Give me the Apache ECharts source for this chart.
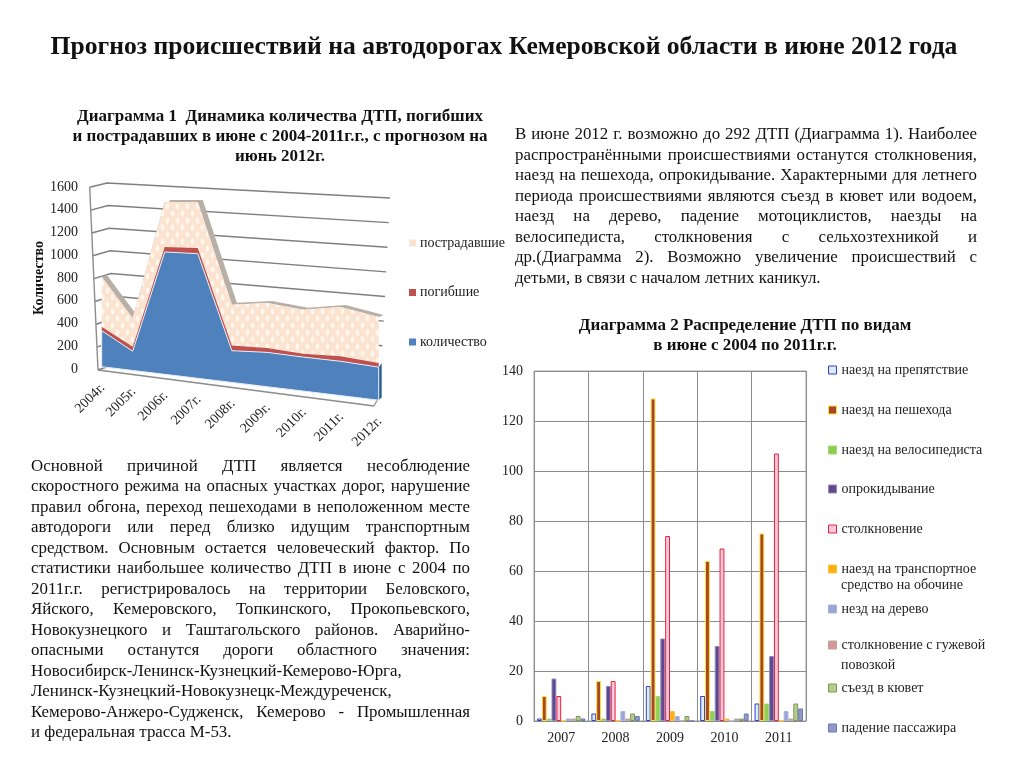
<!DOCTYPE html>
<html><head><meta charset="utf-8">
<style>
html,body{margin:0;padding:0;background:#fff}
#c{position:absolute;left:0;top:0;width:1024px;height:768px}
.p{position:absolute;font:16.9px/20.5px "Liberation Serif",serif;color:#111}
.p div{height:20.5px;white-space:nowrap;text-align:justify;text-align-last:justify}
.p div.l{text-align:left;text-align-last:left}
</style>
<script src="https://cdn.jsdelivr.net/npm/echarts@6/dist/echarts.min.js"></script>
</head><body>
<div id="c"></div>
<div class="p" id="p1" style="left:515px;top:124px;width:462px"></div>
<div class="p" id="p2" style="left:31px;top:455.5px;width:439px"></div>
<script>
const yearsA=['2004г.','2005г.','2006г.','2007г.','2008г.','2009г.','2010г.','2011г.','2012г.'];
const kolichestvo=[318,170,1080,1100,280,303,300,303,292];
const pogibshie=[35,40,43,50,46,38,29,44,37];
const postradavshie=[441,250,397,406,359,397,389,435,406];
const ticksA=[0,200,400,600,800,1000,1200,1400,1600];
const yearsB=['2007','2008','2009','2010','2011'];
const naezdPrep=[1,3,14,10,7];
const naezdPesh=[10,16,129,64,75];
const naezdVelo=[1,1,10,4,7];
const oprokid=[17,14,33,30,26];
const stolkn=[10,16,74,69,107];
const naezdTrans=[0,0,4,1,0];
const naezdDerevo=[1,4,2,0,4];
const stolknGuzh=[1,1,0,1,1];
const sezd=[2,3,2,1,7];
const padenie=[1,2,0,3,5];
const para1=['В июне 2012 г. возможно до 292 ДТП (Диаграмма 1). Наиболее','распространёнными происшествиями останутся столкновения,','наезд на пешехода, опрокидывание. Характерными для летнего','периода  происшествиями являются съезд в кювет или водоем,','наезд на дерево, падение мотоциклистов, наезды на','велосипедиста, столкновения с сельхозтехникой и','др.(Диаграмма 2). Возможно увеличение происшествий с','детьми, в связи с началом летних каникул.'];
const para2=['Основной причиной ДТП является несоблюдение','скоростного режима на опасных участках дорог, нарушение','правил обгона, переход пешеходами в неположенном месте','автодороги или перед близко идущим транспортным','средством. Основным остается человеческий фактор. По','статистики наибольшее количество ДТП в июне с 2004 по','2011г.г.   регистрировалось на территории Беловского,','Яйского,  Кемеровского, Топкинского, Прокопьевского,','Новокузнецкого и Таштагольского районов. Аварийно-','опасными останутся дороги областного значения:','Новосибирск-Ленинск-Кузнецкий-Кемерово-Юрга,','Ленинск-Кузнецкий-Новокузнецк-Междуреченск,','Кемерово-Анжеро-Судженск, Кемерово - Промышленная','и федеральная трасса М-53.'];
const leftLines1=[7], leftLines2=[10,11,13];
function fill(id,lines,left){document.getElementById(id).innerHTML=lines.map((s,i)=>'<div'+(left.includes(i)?' class="l"':'')+'>'+s+'</div>').join('');}
fill('p1',para1,leftLines1);fill('p2',para2,leftLines2);

const F='"Liberation Serif",serif';
// pseudo-3D projection of the front plane of diagram 1
const SHEAR=0.121, WARP=0.12, DX=5, DY=-2;
function proj(api,i,v){
  const p=api.coord([i,v]), o=api.coord([0,0]), e=api.coord([yearsA.length-1,0]);
  const w=e[0]-o[0], t=(p[0]-o[0])/w, t2=t-WARP*t*(1-t), x=o[0]+t2*w;
  return [x,p[1]+SHEAR*(x-o[0])];
}
function pattern(){
  const c=document.createElement('canvas');c.width=10;c.height=14;const g=c.getContext('2d');
  g.fillStyle='#fce3cf';g.fillRect(0,0,10,14);
  g.fillStyle='#fff6ee';
  [[2.5,3.5],[7.5,10.5]].forEach(([x,y])=>{g.beginPath();g.ellipse(x,y,1.8,3,0,0,7);g.fill();});
  return c;
}
const patt={image:pattern(),repeat:'repeat'};
function stack(a,n){return a.map((_,i)=>{let s=0;for(let k=0;k<=n;k++)s+=[kolichestvo,pogibshie,postradavshie][k][i];return s;});}
const top0=stack(kolichestvo,0),top1=stack(pogibshie,1),top2=stack(postradavshie,2);
function layer(name,vals,lows,color,stroke,z,extra){
  return {type:'custom',name,xAxisIndex:0,yAxisIndex:0,coordinateSystem:'cartesian2d',z,silent:true,
    itemStyle:{color:typeof color==='string'?color:'#fce3cf'},
    data:vals.map((v,i)=>[i,v]),
    renderItem(p,api){
      if(p.dataIndex!==0)return null;
      const up=vals.map((v,i)=>proj(api,i,v)), lo=lows.map((v,i)=>proj(api,i,v)).reverse();
      const ch=[];
      if(extra)extra(up,lo,ch);
      ch.push({type:'polygon',shape:{points:up.concat(lo)},style:{fill:color,stroke:stroke,lineWidth:stroke?1:0},z2:5});
      return {type:'group',children:ch};
    }};
}
const zeros=yearsA.map(()=>0);
const seriesA=[
  // walls and gridlines, drawn from the tick values
  {type:'custom',xAxisIndex:0,yAxisIndex:0,z:1,silent:true,data:ticksA.map(v=>[0,v]),
   renderItem(p,api){
     const v=api.value(1),t=v/1600;
     const a=[98-8.3*t,370-182.7*t],b=[115-8*t,364-181*t],c=[380+10*t,395-197*t];
     return {type:'polyline',shape:{points:[a,b,c]},style:{fill:null,stroke:'#7f7f7f',lineWidth:1.5}};
   }},
  {type:'custom',xAxisIndex:0,yAxisIndex:0,z:1,silent:true,data:[[0,0]],
   renderItem(){
     return {type:'group',children:[
       {type:'line',shape:{x1:98,y1:370,x2:89.7,y2:187.3},style:{stroke:'#8c8c8c',lineWidth:1.4}},
       {type:'line',shape:{x1:98,y1:370,x2:374,y2:406},style:{stroke:'#8c8c8c',lineWidth:1.6}},
       {type:'line',shape:{x1:374,y1:406,x2:380,y2:395},style:{stroke:'#8c8c8c',lineWidth:1.2}}
     ]};
   }},
  layer('пострадавшие',top2,top1,patt,null,3,(up,lo,ch)=>{
    const off=up.map(q=>[q[0]+DX,q[1]+DY]).reverse();
    ch.push({type:'polygon',shape:{points:up.concat(off)},style:{fill:'#b8afa6'},z2:2});
  }),
  layer('погибшие',top1,top0,'#c0504d',null,4),
  layer('количество',top0,zeros,'#4f81bd','#e6edf5',5,(up,lo,ch)=>{
    const r=up[up.length-1], b=lo[0];
    ch.push({type:'polygon',shape:{points:[r,b,[b[0]+3,b[1]-3],[r[0]+3,r[1]-4]]},style:{fill:'#2f5f94'},z2:2});
  }),
  // category labels along the slanted floor
  {type:'custom',xAxisIndex:0,yAxisIndex:0,z:6,silent:true,data:yearsA.map((_,i)=>[i,0]),
   renderItem(p,api){
     const i=api.value(0),q=proj(api,i,0);
     return {type:'text',x:q[0]+1,y:q[1]+19,rotation:Math.PI/4,
       style:{text:yearsA[i],font:'14px '+F,fill:'#222',align:'right',verticalAlign:'middle'}};
   }}
];
const S=(name,data,color,border)=>({type:'bar',name,data,xAxisIndex:1,yAxisIndex:2,barGap:'0%',barCategoryGap:'11%',
  itemStyle:{color,borderColor:border,borderWidth:1}});
const seriesB=[
  S('наезд на препятствие',naezdPrep,'#dcecf8','#2f3fd0'),
  S('наезд на пешехода',naezdPesh,'#a5452d','#ffe030'),
  S('наезд на велосипедиста',naezdVelo,'#8ccf50','#a5d870'),
  S('опрокидывание',oprokid,'#64468e','#8a8fc0'),
  S('столкновение',stolkn,'#ffcadc','#e8203c'),
  S('наезд на транспортное\nсредство на обочине',naezdTrans,'#ffb10f','#ffc040'),
  S('незд на дерево',naezdDerevo,'#97a6d6','#a8b4dc'),
  S('столкновение с гужевой\nповозкой',stolknGuzh,'#d99694','#b8a8a8'),
  S('съезд в кювет',sezd,'#b5cc90','#7d9a55'),
  S('падение пассажира',padenie,'#8f98c6','#6c7ab2')
];
const ys=[370,410,450,489,529,569,609,645,688,728];
const legendsB=seriesB.map((s,i)=>({data:[s.name],orient:'vertical',left:828,top:ys[i]-7,padding:0,icon:'rect',itemWidth:8,itemHeight:8,itemGap:0,selectedMode:false,
  formatter:n=>n.split('\n')[0],textStyle:{fontFamily:F,fontSize:14,color:'#222',padding:[0,0,0,0]},
  itemStyle:{borderWidth:1}}));
const legendA={data:['пострадавшие','погибшие','количество'],orient:'vertical',left:409,top:236,padding:0,icon:'rect',itemWidth:7,itemHeight:7,itemGap:35.5,selectedMode:false,
  textStyle:{fontFamily:F,fontSize:14,color:'#222',padding:[0,0,0,-1]}};
const T=(text,x,y,size)=>({text,left:x,top:y,textAlign:'center',textStyle:{fontFamily:F,fontSize:size,fontWeight:'bold',color:'#111',lineHeight:20},padding:0});
const opt={animation:false,backgroundColor:'#fff',
 title:[
  T('Прогноз происшествий на автодорогах Кемеровской области в июне 2012 года',504,37,25.6),
  T('Диаграмма 1  Динамика количества ДТП, погибших\nи пострадавших в июне с 2004-2011г.г., с прогнозом на\nиюнь 2012г.',280,107,17),
  T('Диаграмма 2 Распределение ДТП по видам\nв июне с 2004 по 2011г.г.',745,316,17)
 ],
 legend:[legendA].concat(legendsB),
 graphic:[
  {type:'text',left:841,top:578,style:{text:'средство на обочине',font:'14px '+F,fill:'#222'}},
  {type:'text',left:841,top:658,style:{text:'повозкой',font:'14px '+F,fill:'#222'}}
 ],
 grid:[
  {left:101.7,top:185.4,width:277,height:181.3,show:false},
  {left:534,top:371,width:272,height:350,show:true,borderColor:'#a6a6a6',borderWidth:1},
  {left:84,top:187,width:1,height:182,show:false}
 ],
 xAxis:[
  {gridIndex:0,type:'category',data:yearsA,boundaryGap:false,show:false},
  {gridIndex:1,type:'category',data:yearsB,axisTick:{show:false},axisLine:{lineStyle:{color:'#8c8c8c'}},
   splitLine:{show:true,lineStyle:{color:'#8c8c8c',width:1}},axisLabel:{fontFamily:F,fontSize:14,color:'#222',margin:10}},
  {gridIndex:2,type:'value',show:false}
 ],
 yAxis:[
  {gridIndex:0,type:'value',min:0,max:1600,show:false},
  {gridIndex:2,type:'value',min:0,max:1600,interval:200,axisLine:{show:false},axisTick:{show:false},splitLine:{show:false},
   axisLabel:{fontFamily:F,fontSize:14,color:'#222',margin:6,formatter:v=>String(v)},
   name:'Количество',nameLocation:'middle',nameGap:38,nameRotate:90,nameTextStyle:{fontFamily:F,fontSize:14,fontWeight:'bold',color:'#111'}},
  {gridIndex:1,type:'value',min:0,max:140,interval:20,axisLine:{show:false},axisTick:{show:false},
   splitLine:{lineStyle:{color:'#8c8c8c',width:1}},axisLabel:{fontFamily:F,fontSize:14,color:'#222',margin:11}}
 ],
 series:seriesA.concat(seriesB)
};
echarts.init(document.getElementById('c'),null,{renderer:'canvas'}).setOption(opt);
</script>
</body></html>
